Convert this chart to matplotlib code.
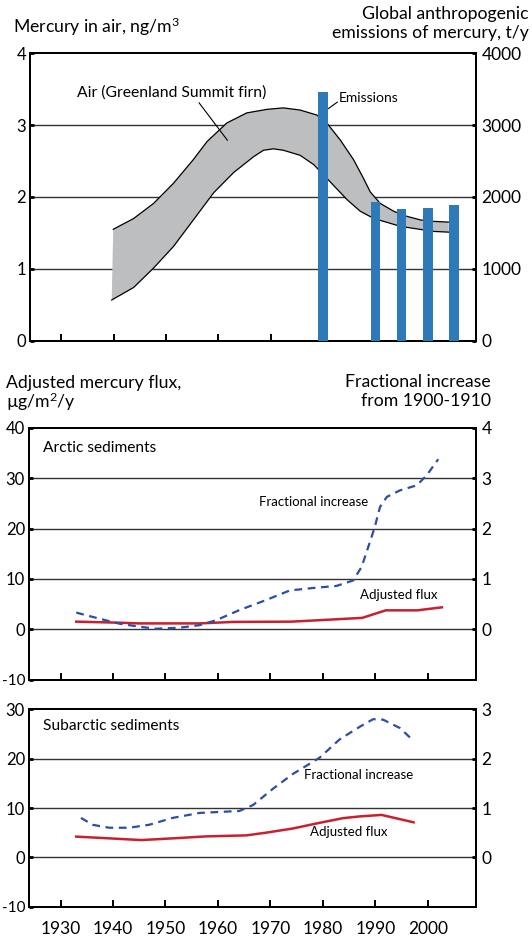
import matplotlib
matplotlib.use("Agg")
import matplotlib.pyplot as plt

plt.rcParams["font.family"] = ["Lato", "DejaVu Sans"]
plt.rcParams["mathtext.fontset"] = "custom"
plt.rcParams["mathtext.rm"] = "Lato"
plt.rcParams["mathtext.it"] = "Lato"
plt.rcParams["mathtext.default"] = "regular"
plt.rcParams["axes.unicode_minus"] = False

# ---- data ----
# Greenland Summit firn air band (ng/m3), upper and lower edges
air_up_years = [1939.9, 1943.8, 1947.6, 1951.4, 1955.2, 1957.8, 1961.6, 1965.4, 1969.3, 1972.4,
                1975.6, 1978.8, 1980.7, 1983.3, 1985.8, 1987.7, 1989.0, 1990.9, 1993.5, 1996.0,
                1998.6, 2001.1, 2004.0]
air_upper = [1.55, 1.70, 1.91, 2.19, 2.52, 2.77, 3.03, 3.17, 3.22, 3.24,
             3.21, 3.14, 3.03, 2.79, 2.52, 2.26, 2.07, 1.91, 1.80, 1.73,
             1.68, 1.66, 1.65]
air_lo_years = [1939.6, 1943.8, 1947.6, 1951.4, 1955.2, 1959.1, 1962.9, 1966.7, 1968.6, 1970.5,
                1972.4, 1975.6, 1978.2, 1980.7, 1984.6, 1987.1, 1989.7, 1994.8, 2001.1, 2004.0]
air_lower = [0.565, 0.74, 1.01, 1.31, 1.68, 2.06, 2.34, 2.56, 2.65, 2.67,
             2.65, 2.58, 2.45, 2.26, 1.96, 1.80, 1.70, 1.59, 1.52, 1.51]

# global anthropogenic emissions (t/y)
emis_years = [1980, 1990, 1995, 2000, 2005]
emis_values = [3460, 1930, 1830, 1850, 1890]

# Arctic sediments
arc_flux_years = [1933, 1941, 1945, 1956.5, 1963, 1974, 1979.5, 1987.5, 1992, 1998, 2002.7]
arc_flux = [1.5, 1.3, 1.15, 1.15, 1.45, 1.5, 1.8, 2.25, 3.75, 3.75, 4.35]
arc_frac_years = [1933, 1937.4, 1941.2, 1945, 1948.2, 1952.7, 1956.5, 1959.7, 1964.1, 1969.2,
                  1973.7, 1978.2, 1982.6, 1985.8, 1987.4, 1989, 1989.9, 1990.9, 1992.2,
                  1994.7, 1997.9, 1999.8, 2002]
arc_frac = [0.33, 0.21, 0.11, 0.05, 0.01, 0.03, 0.08, 0.18, 0.38, 0.58,
            0.77, 0.82, 0.86, 0.97, 1.24, 1.74, 2.03, 2.43, 2.63,
            2.76, 2.86, 3.06, 3.38]

# Subarctic sediments
sub_flux_years = [1933, 1939.3, 1945.4, 1951.4, 1957.8, 1965.4, 1969.2, 1974.3, 1979.4,
                  1983.9, 1987.1, 1991.2, 1997.3]
sub_flux = [4.2, 3.85, 3.5, 3.85, 4.25, 4.45, 5.0, 5.85, 7.0, 7.95, 8.3, 8.6, 7.1]
sub_frac_years = [1933.9, 1936.1, 1939.3, 1943.1, 1946.9, 1951.4, 1956.5, 1960.3, 1964.1,
                  1966.7, 1970.5, 1974.3, 1979.4, 1983.2, 1987.1, 1989.6, 1991.5, 1994.7, 1997.3]
sub_frac = [0.80, 0.66, 0.60, 0.60, 0.66, 0.80, 0.90, 0.92, 0.94,
            1.06, 1.39, 1.69, 2.02, 2.39, 2.65, 2.80, 2.79, 2.62, 2.36]

year_ticks = [1930, 1940, 1950, 1960, 1970, 1980, 1990, 2000]

RED = "#c8202f"
BLUE = "#2c4fa0"
BAR = "#2e79b8"
GRID = "#333333"
FS = 12.5
TFS = 12.7
XLIM = (1923.9, 2009.2)

W, H = 532, 938
fig = plt.figure(figsize=(W / 100, H / 100), dpi=100)


def rect(left, top, right, bottom):
    return [left / W, 1 - bottom / H, (right - left) / W, (bottom - top) / H]


def style(ax, axr, show_xlabels=False):
    for a in (ax, axr):
        for s in a.spines.values():
            s.set_linewidth(1.4)
            s.set_color("black")
    ax.set_xlim(*XLIM)
    ax.set_xticks(year_ticks)
    ax.tick_params(axis="x", direction="in", length=5, width=1.4, pad=10,
                   labelsize=FS, labelbottom=show_xlabels, top=False)
    ax.tick_params(axis="y", direction="in", length=3, width=2, pad=2.5, labelsize=12)
    axr.tick_params(axis="y", direction="in", length=3, width=2, pad=4, labelsize=FS)
    axr.set_xlim(*XLIM)
    # the -10 label sits right at the figure edge, keep it a bit smaller
    fig.canvas.draw()
    for lab in ax.get_yticklabels():
        if lab.get_text() == "-10":
            lab.set_fontsize(11)


# ---- top panel ----
ax1 = fig.add_axes(rect(29.5, 53.3, 476, 340.6))
ax1r = ax1.twinx()
ax1.set_ylim(0, 4)
ax1.set_yticks([0, 1, 2, 3, 4])
ax1r.set_ylim(0, 4000)
ax1r.set_yticks([0, 1000, 2000, 3000, 4000])
for g in [1, 2, 3]:
    ax1.axhline(g, color=GRID, lw=1.0, zorder=0)
ax1.fill(air_up_years + air_lo_years[::-1], air_upper + air_lower[::-1],
         color="#bdbec0", lw=0, zorder=1)
ax1.plot(air_up_years, air_upper, color="black", lw=0.9, zorder=2)
ax1.plot(air_lo_years, air_lower, color="black", lw=0.9, zorder=2)
ax1r.bar(emis_years, emis_values, width=1.8, color=BAR, zorder=3)
style(ax1, ax1r)
ax1.text(1933.0, 3.45, "Air (Greenland Summit firn)", fontsize=11.3, va="center", ha="left")
ax1.plot([1956.3, 1961.7], [3.31, 2.79], color="black", lw=0.8)
ax1r.text(1983.0, 3380, "Emissions", fontsize=10, va="center", ha="left")
ax1r.plot([1981.0, 1982.7], [3230, 3320], color="black", lw=0.8)

fig.text(12.7 / W, 1 - 27 / H, "Mercury in air, ng/m$^3$", fontsize=TFS, va="center", ha="left")
fig.text(529 / W, 1 - 14 / H, "Global anthropogenic", fontsize=TFS, va="center", ha="right")
fig.text(529 / W, 1 - 33 / H, "emissions of mercury, t/y", fontsize=TFS, va="center", ha="right")

# ---- middle panel: Arctic ----
ax2 = fig.add_axes(rect(28.5, 428, 476, 679.5))
ax2r = ax2.twinx()
ax2.set_ylim(-10, 40)
ax2.set_yticks([-10, 0, 10, 20, 30, 40])
ax2r.set_ylim(-1, 4)
ax2r.set_yticks([0, 1, 2, 3, 4])
for g in [0, 10, 20, 30]:
    ax2.axhline(g, color=GRID, lw=1.0, zorder=0)
ax2.plot(arc_flux_years, arc_flux, color=RED, lw=1.8, zorder=3)
ax2r.plot(arc_frac_years, arc_frac, color=BLUE, lw=1.6, ls=(0, (3.5, 2.5)), zorder=3)
style(ax2, ax2r)
ax2.text(1926.6, 36.0, "Arctic sediments", fontsize=11.2, va="center", ha="left")
ax2.text(1967.9, 25.3, "Fractional increase", fontsize=9.5, va="center", ha="left")
ax2.text(1987.0, 6.7, "Adjusted flux", fontsize=9.5, va="center", ha="left")

fig.text(6 / W, 1 - 383 / H, "Adjusted mercury flux,", fontsize=TFS, va="center", ha="left")
fig.text(6 / W, 1 - 402 / H, "µg/m$^2$/y", fontsize=TFS, va="center", ha="left")
fig.text(491 / W, 1 - 382 / H, "Fractional increase", fontsize=TFS, va="center", ha="right")
fig.text(491 / W, 1 - 401 / H, "from 1900-1910", fontsize=TFS, va="center", ha="right")

# ---- bottom panel: Subarctic ----
ax3 = fig.add_axes(rect(28.5, 709.3, 476, 906.7))
ax3r = ax3.twinx()
ax3.set_ylim(-10, 30)
ax3.set_yticks([-10, 0, 10, 20, 30])
ax3r.set_ylim(-1, 3)
ax3r.set_yticks([0, 1, 2, 3])
for g in [0, 10, 20]:
    ax3.axhline(g, color=GRID, lw=1.0, zorder=0)
ax3.plot(sub_flux_years, sub_flux, color=RED, lw=1.8, zorder=3)
ax3r.plot(sub_frac_years, sub_frac, color=BLUE, lw=1.6, ls=(0, (3.5, 2.5)), zorder=3)
style(ax3, ax3r, show_xlabels=True)
ax3.text(1926.6, 26.7, "Subarctic sediments", fontsize=11.2, va="center", ha="left")
ax3.text(1976.5, 16.6, "Fractional increase", fontsize=9.5, va="center", ha="left")
ax3.text(1977.6, 5.1, "Adjusted flux", fontsize=9.5, va="center", ha="left")

fig.savefig("out.png", dpi=100)
